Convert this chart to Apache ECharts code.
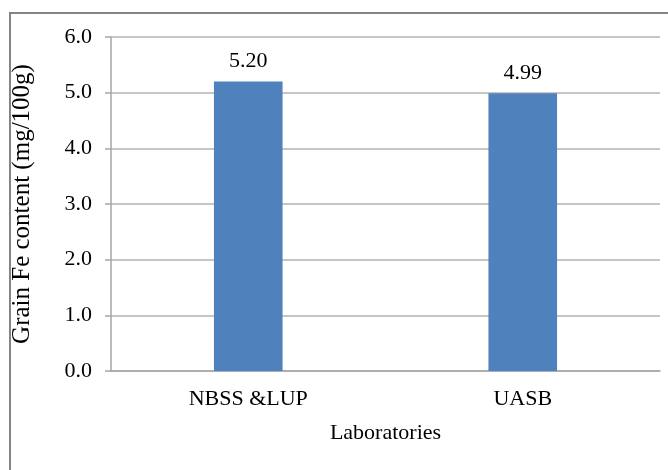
<!DOCTYPE html>
<html>
<head>
<meta charset="utf-8">
<script src="https://cdn.jsdelivr.net/npm/echarts@6/dist/echarts.min.js"></script>
<style>
  html, body { margin: 0; padding: 0; background: #fff; }
  #chart { width: 668px; height: 470px; }
</style>
</head>
<body>
<div id="chart"></div>
<script>
var labs = ['NBSS &LUP', 'UASB'];
var feValues = [5.20, 4.99];
var yTicks = [0, 1, 2, 3, 4, 5, 6];

var chart = echarts.init(document.getElementById('chart'));
var serif = '"Liberation Serif", "DejaVu Serif", serif';

var option = {
    animation: false,
    graphic: [{
        type: 'rect',
        shape: { x: 10, y: 13, width: 700, height: 500 },
        style: { fill: 'none', stroke: '#858585', lineWidth: 2 },
        silent: true
    }],
    grid: { left: 111, right: 8, top: 37, bottom: 99 },
    xAxis: {
        type: 'category',
        data: labs,
        name: 'Laboratories',
        nameLocation: 'middle',
        nameGap: 51,
        nameTextStyle: { fontFamily: serif, fontSize: 22, color: '#000' },
        axisLine: { lineStyle: { color: '#a6a6a6', width: 1.5 } },
        axisTick: { show: false },
        axisLabel: { fontFamily: serif, fontSize: 22, color: '#000', margin: 17 }
    },
    yAxis: {
        type: 'value',
        min: yTicks[0],
        max: yTicks[yTicks.length - 1],
        interval: 1,
        name: 'Grain Fe content (mg/100g)',
        nameLocation: 'middle',
        nameGap: 76,
        nameTextStyle: { fontFamily: serif, fontSize: 25, color: '#000' },
        axisLine: { show: true, lineStyle: { color: '#a6a6a6', width: 1.5 } },
        axisTick: { show: true, length: 6, lineStyle: { color: '#a6a6a6', width: 1.5 } },
        splitLine: { lineStyle: { color: '#b3b3b3', width: 1.5 } },
        axisLabel: {
            fontFamily: serif, fontSize: 22, color: '#000', margin: 19,
            formatter: function (v) { return v.toFixed(1); }
        }
    },
    series: [{
        type: 'bar',
        data: feValues,
        barWidth: '25%',
        itemStyle: { color: '#4f81bd' },
        label: {
            show: true,
            position: 'top',
            distance: 9,
            fontFamily: serif,
            fontSize: 22,
            color: '#000',
            formatter: function (p) { return p.value.toFixed(2); }
        }
    }]
};
chart.setOption(option);
</script>
</body>
</html>
